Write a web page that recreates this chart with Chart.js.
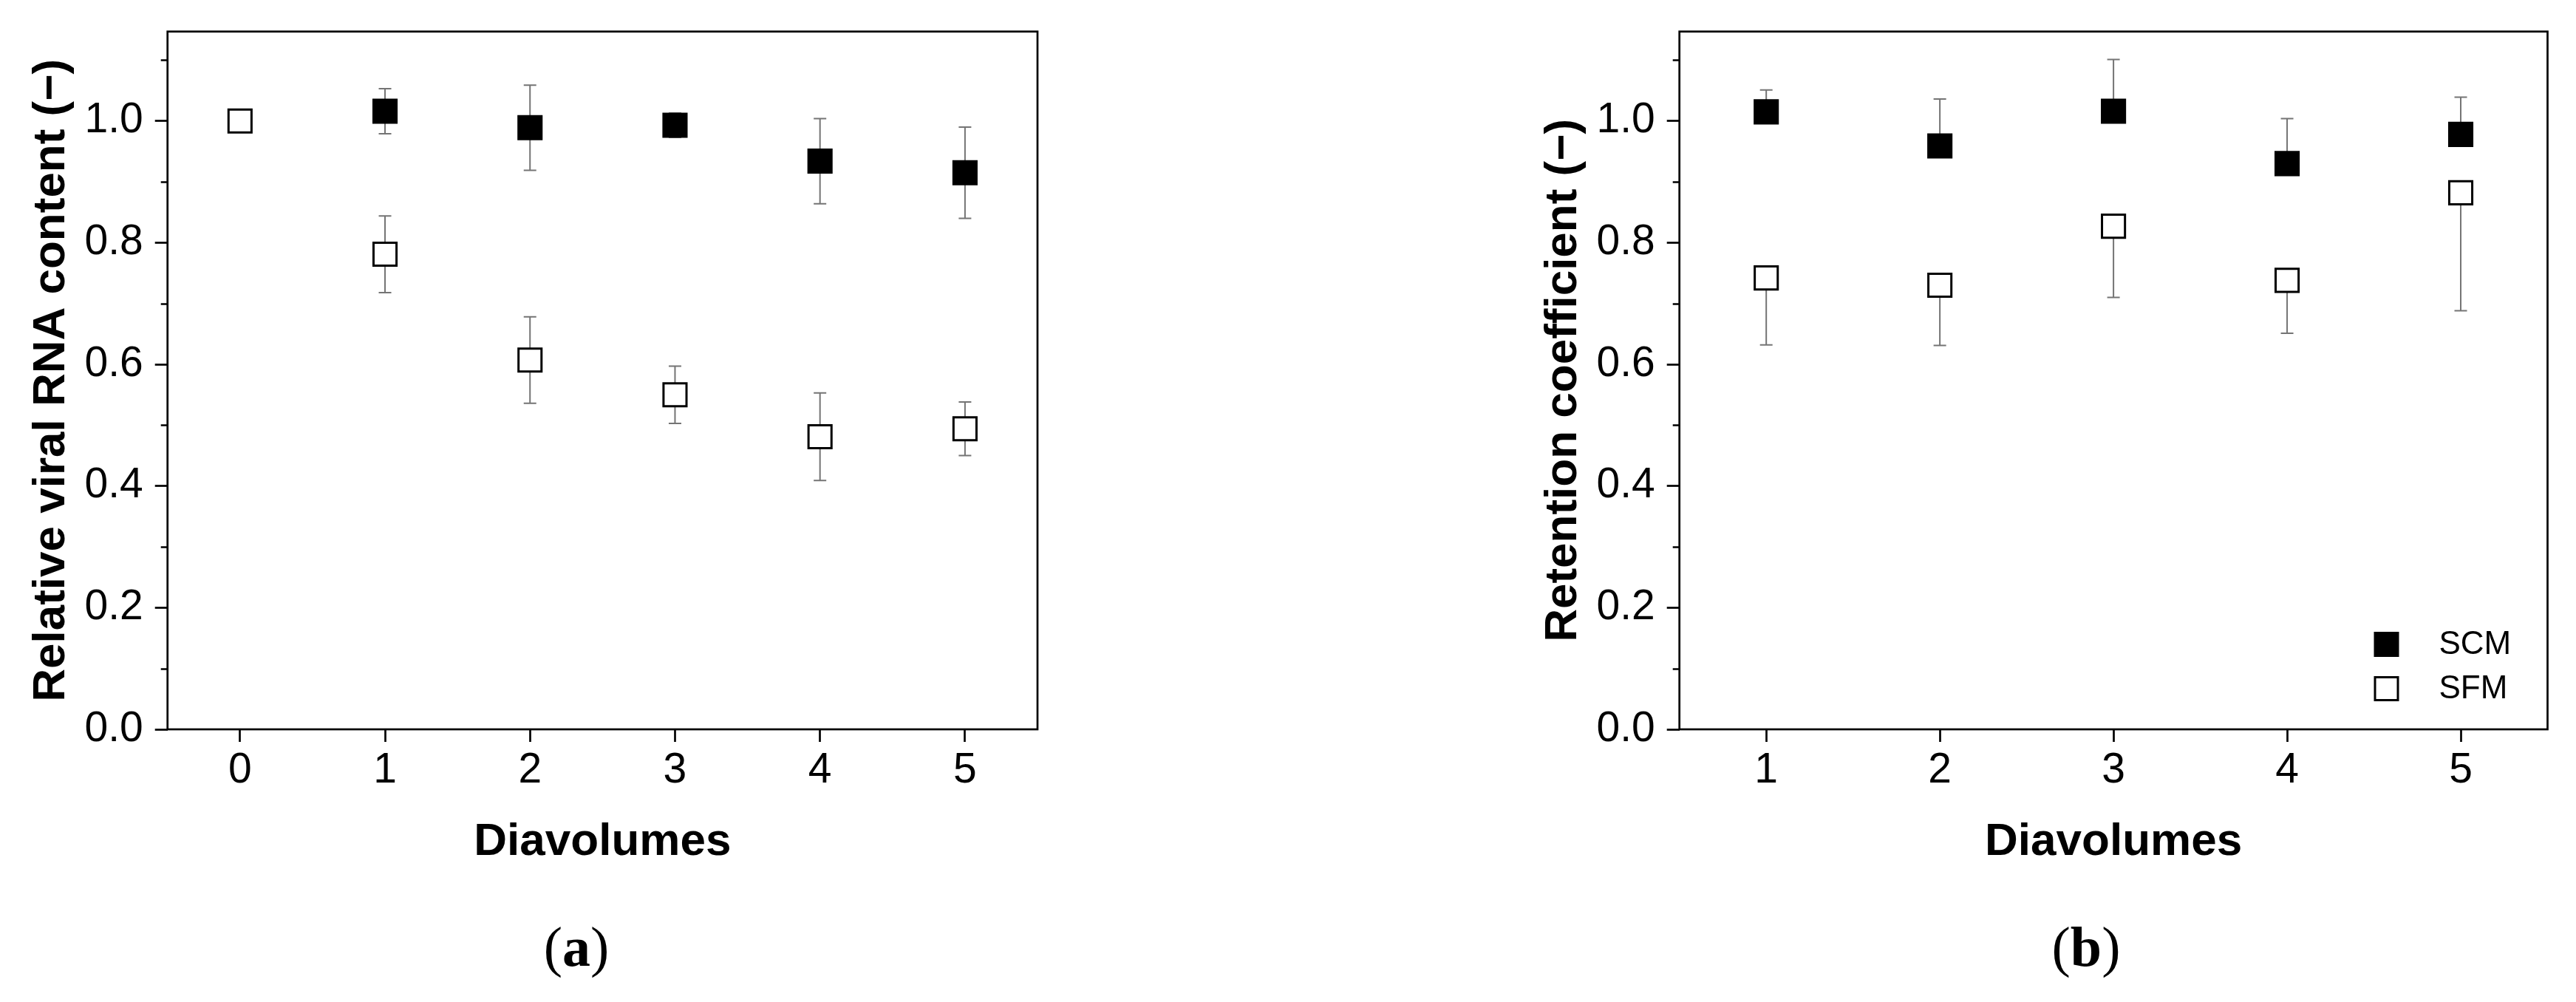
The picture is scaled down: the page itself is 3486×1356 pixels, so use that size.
<!DOCTYPE html>
<html>
<head>
<meta charset="utf-8">
<script src="https://cdn.jsdelivr.net/npm/chart.js@4.4.0/dist/chart.umd.min.js"></script>
<style>
  html, body { margin: 0; padding: 0; background: #fff; }
  body { width: 3486px; height: 1356px; position: relative; overflow: hidden; }
  .panel { position: absolute; top: 0; }
  .caption {
    position: absolute; top: 1243px; width: 300px; text-align: center;
    font-family: "Liberation Serif", "Times New Roman", serif; font-size: 76px; line-height: 1; color: #000;
  }
</style>
</head>
<body>
<canvas id="chartA" class="panel" width="1500" height="1200" style="left:0px"></canvas>
<canvas id="chartB" class="panel" width="1500" height="1200" style="left:2046px"></canvas>
<div class="caption" style="left:630px">(<b>a</b>)</div>
<div class="caption" style="left:2673px">(<b>b</b>)</div>
<script>
// Panel (a): relative viral RNA content
const diavolumesA = [0, 1, 2, 3, 4, 5];
const scmRelative = [null, 1.016, 0.989, 0.993, 0.934, 0.915];
const scmRelativeErr = [0, 0.037, 0.070, 0.020, 0.070, 0.075];
const sfmRelative = [1.0, 0.781, 0.607, 0.550, 0.481, 0.494];
const sfmRelativeErr = [0, 0.063, 0.071, 0.047, 0.072, 0.044];

// Panel (b): retention coefficient
const diavolumesB = [1, 2, 3, 4, 5];
const scmRetention = [1.015, 0.959, 1.016, 0.930, 0.978];
const scmRetentionErr = [0.036, 0.077, 0.085, 0.074, 0.061];
const sfmRetention = [0.742, 0.730, 0.827, 0.738, 0.882];
const sfmRetentionErr = [0.110, 0.099, 0.117, 0.087, 0.194];

// Axis ticks
const xTicksA = [0, 1, 2, 3, 4, 5];
const xTicksB = [1, 2, 3, 4, 5];
const yTicks = [0, 0.1, 0.2, 0.3, 0.4, 0.5, 0.6, 0.7, 0.8, 0.9, 1.0, 1.1];
const yMajor = [0, 0.2, 0.4, 0.6, 0.8, 1.0];

const FONT = '"Liberation Sans", Arial, sans-serif';
const tickFont = { family: FONT, size: 57 };
const titleFont = { family: FONT, size: 62, weight: 'bold' };

function toPoints(xs, ys) {
  return xs.map((x, i) => ({ x: x, y: ys[i] }));
}

// Error bars drawn behind the squares
const errorBars = {
  id: 'errorBars',
  beforeDatasetsDraw(chart) {
    const { ctx } = chart;
    const y = chart.scales.y;
    ctx.save();
    ctx.strokeStyle = '#747474';
    ctx.lineWidth = 2;
    chart.data.datasets.forEach((ds, i) => {
      const meta = chart.getDatasetMeta(i);
      ds.data.forEach((p, j) => {
        const e = ds.errors[j];
        if (p.y == null || !e) return;
        const px = meta.data[j].x;
        const top = ds.errDir === 'down' ? y.getPixelForValue(p.y) : y.getPixelForValue(p.y + e);
        const bot = ds.errDir === 'up' ? y.getPixelForValue(p.y) : y.getPixelForValue(p.y - e);
        ctx.beginPath();
        ctx.moveTo(px, top); ctx.lineTo(px, bot);
        if (ds.errDir !== 'down') { ctx.moveTo(px - 8.5, top); ctx.lineTo(px + 8.5, top); }
        if (ds.errDir !== 'up') { ctx.moveTo(px - 8.5, bot); ctx.lineTo(px + 8.5, bot); }
        ctx.stroke();
      });
    });
    ctx.restore();
  }
};

// Box around plot area + minor ticks on y
const frame = {
  id: 'frame',
  afterDraw(chart) {
    const { ctx, chartArea } = chart;
    ctx.save();
    ctx.strokeStyle = '#000';
    ctx.lineWidth = 2.7;
    ctx.strokeRect(chartArea.left, chartArea.top, chartArea.right - chartArea.left, chartArea.bottom - chartArea.top);
    const y = chart.scales.y;
    ctx.beginPath();
    y.ticks.forEach(t => {
      if (yMajor.includes(t.value)) return;
      const py = Math.round(y.getPixelForValue(t.value)) + 0.5;
      ctx.moveTo(chartArea.left - 9, py);
      ctx.lineTo(chartArea.left, py);
    });
    ctx.stroke();
    ctx.restore();
  }
};

// Legend inside the plot (panel b)
const insideLegend = {
  id: 'insideLegend',
  afterDraw(chart, args, opts) {
    if (!opts.show) return;
    const { ctx, chartArea } = chart;
    ctx.save();
    chart.data.datasets.forEach((ds, i) => {
      const cx = chartArea.right - 218;
      const cy = chartArea.bottom - 115 + i * 60;
      ctx.fillStyle = ds.backgroundColor;
      ctx.strokeStyle = ds.borderColor;
      ctx.lineWidth = 3;
      ctx.fillRect(cx - 15.5, cy - 15.5, 31, 31);
      ctx.strokeRect(cx - 15.5, cy - 15.5, 31, 31);
      ctx.fillStyle = '#000';
      ctx.font = '44px ' + FONT;
      ctx.textBaseline = 'middle';
      ctx.textAlign = 'left';
      ctx.fillText(ds.label, cx + 71, cy + 1);
    });
    ctx.restore();
  }
};

function makeDataset(label, points, errors, errDir, fill) {
  return {
    label: label,
    data: points,
    errors: errors,
    errDir: errDir,
    pointStyle: 'rect',
    pointRadius: 22,
    pointHoverRadius: 22,
    borderWidth: 3,
    pointBorderWidth: 3,
    borderColor: '#000',
    backgroundColor: fill,
    pointBackgroundColor: fill,
    showLine: false
  };
}

function makeOptions(xMin, xMax, xTicks, yTitle, padRight, showLegend) {
  return {
    responsive: false,
    animation: false,
    events: [],
    layout: { autoPadding: false, padding: { top: 42.7, right: padRight, bottom: 0, left: 0 } },
    plugins: {
      legend: { display: false },
      tooltip: { enabled: false },
      insideLegend: { show: showLegend }
    },
    scales: {
      x: {
        type: 'linear',
        min: xMin,
        max: xMax,
        afterBuildTicks: (axis) => { axis.ticks = xTicks.map(v => ({ value: v })); },
        afterFit: (axis) => { axis.height = 213; axis.paddingLeft = 0; axis.paddingRight = 0; },
        border: { display: false },
        grid: { drawOnChartArea: false, drawTicks: true, tickLength: 17, tickWidth: 2.7, tickColor: '#000' },
        ticks: { padding: 5, color: '#000', font: tickFont, maxRotation: 0, autoSkip: false },
        title: { display: true, text: 'Diavolumes', color: '#000', font: titleFont, padding: { top: 0, bottom: 22.8 } }
      },
      y: {
        type: 'linear',
        min: 0,
        max: 1.147,
        afterBuildTicks: (axis) => { axis.ticks = yTicks.map(v => ({ value: v })); },
        afterFit: (axis) => { axis.width = 226.7; axis.paddingTop = 0; axis.paddingBottom = 0; },
        border: { display: false },
        grid: {
          drawOnChartArea: false, drawTicks: true, tickLength: 17, tickWidth: 2.7,
          tickColor: (c) => (c.tick && yMajor.includes(c.tick.value)) ? '#000' : 'rgba(0,0,0,0)'
        },
        ticks: {
          padding: 16, color: '#000', font: tickFont, autoSkip: false,
          callback: (v) => yMajor.includes(v) ? v.toFixed(1) : ''
        },
        title: { display: true, text: yTitle, color: '#000', font: titleFont, padding: { top: 33, bottom: 0 } }
      }
    }
  };
}

new Chart(document.getElementById('chartA'), {
  type: 'scatter',
  data: {
    datasets: [
      makeDataset('SCM', toPoints(diavolumesA, scmRelative), scmRelativeErr, 'both', '#000'),
      makeDataset('SFM', toPoints(diavolumesA, sfmRelative), sfmRelativeErr, 'both', '#fff')
    ]
  },
  options: makeOptions(-0.5, 5.5, xTicksA, 'Relative viral RNA content (\u2212)', 96, false),
  plugins: [errorBars, frame, insideLegend]
});

new Chart(document.getElementById('chartB'), {
  type: 'scatter',
  data: {
    datasets: [
      makeDataset('SCM', toPoints(diavolumesB, scmRetention), scmRetentionErr, 'up', '#000'),
      makeDataset('SFM', toPoints(diavolumesB, sfmRetention), sfmRetentionErr, 'down', '#fff')
    ]
  },
  options: makeOptions(0.5, 5.5, xTicksB, 'Retention coefficient (\u2212)', 98.5, true),
  plugins: [errorBars, frame, insideLegend]
});
</script>
</body>
</html>
